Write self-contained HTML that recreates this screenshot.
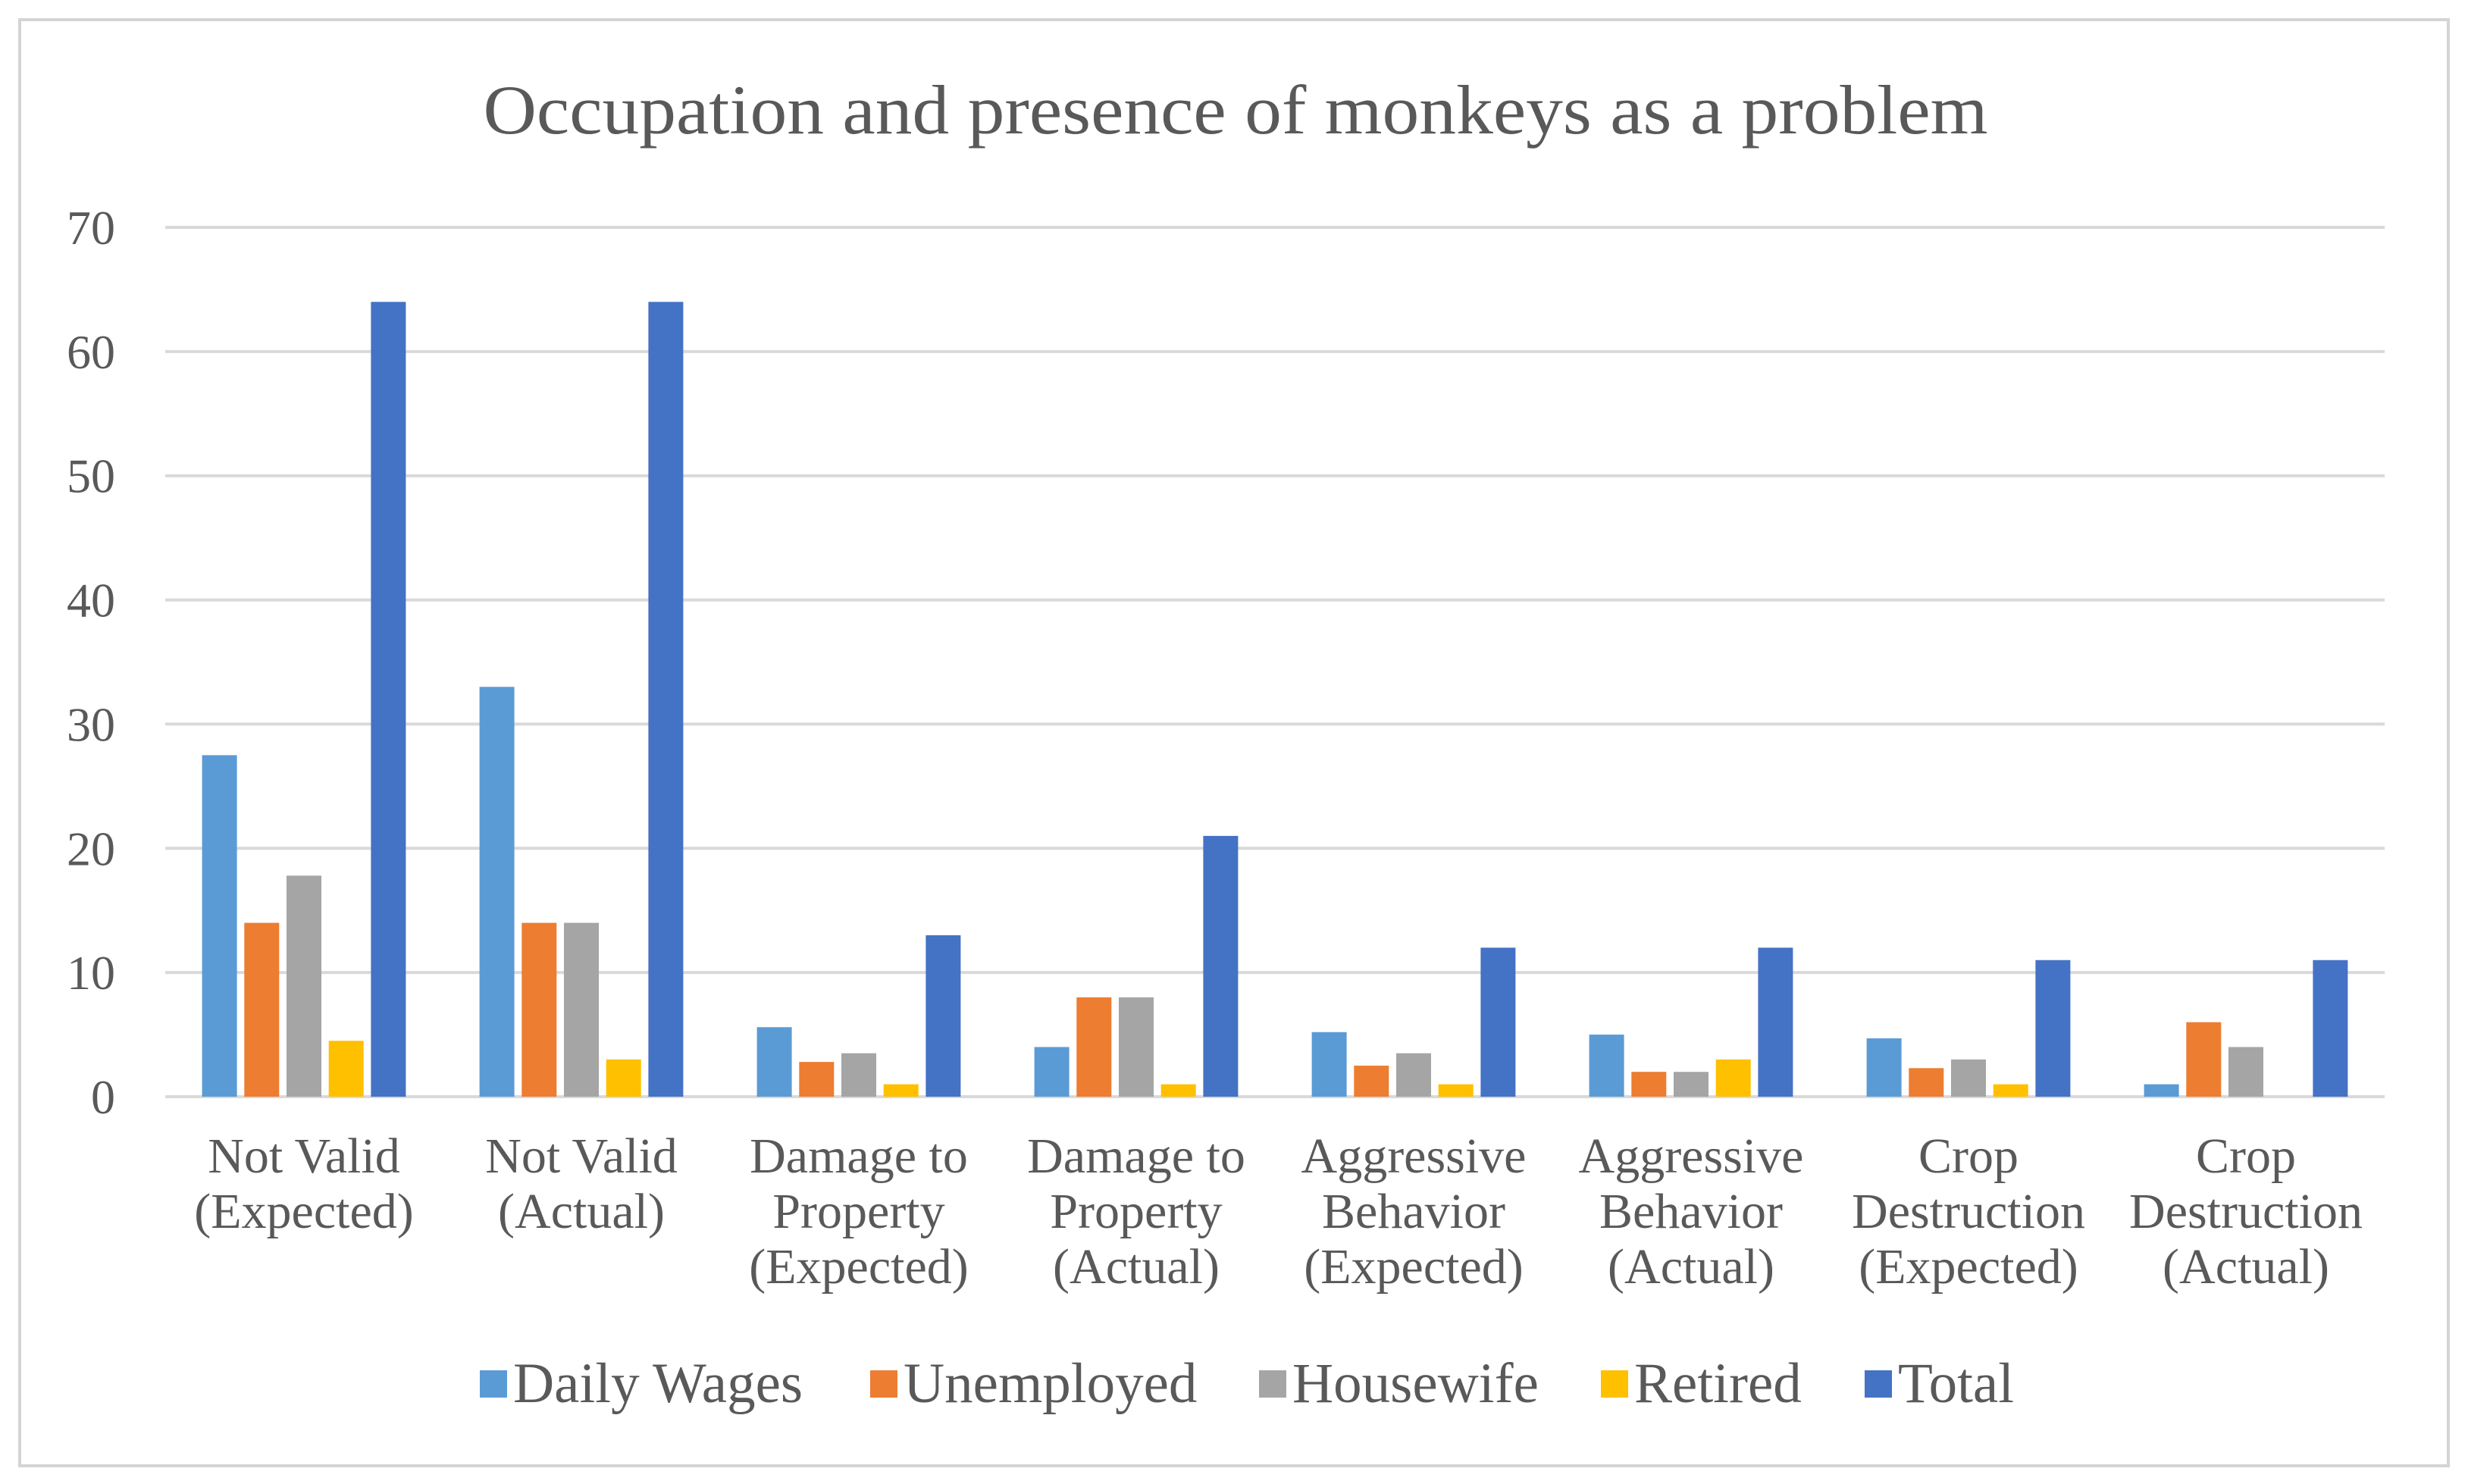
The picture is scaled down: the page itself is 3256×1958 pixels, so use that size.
<!DOCTYPE html>
<html><head><meta charset="utf-8"><style>
html,body{margin:0;padding:0;background:#fff}
svg{display:block}
text{font-family:"Liberation Serif",serif;fill:#595959}
</style></head><body>
<svg id="chart" width="3256" height="1958" viewBox="0 0 3256 1958" xmlns="http://www.w3.org/2000/svg">
<rect x="0" y="0" width="3256" height="1958" fill="#fff"/>
<rect x="26" y="26" width="3204" height="1908" fill="none" stroke="#d4d4d4" stroke-width="4"/>
<text x="1630" y="176" text-anchor="middle" font-size="92" textLength="1985" lengthAdjust="spacingAndGlyphs">Occupation and presence of monkeys as a problem</text>
<g id="grid"></g><g id="bars"></g><g id="xlabels"></g><g id="legend"></g>
</svg>
<script>
const categories=[["Not Valid","(Expected)"],["Not Valid","(Actual)"],["Damage to","Property","(Expected)"],["Damage to","Property","(Actual)"],["Aggressive","Behavior","(Expected)"],["Aggressive","Behavior","(Actual)"],["Crop","Destruction","(Expected)"],["Crop","Destruction","(Actual)"]];
const seriesNames=["Daily Wages","Unemployed","Housewife","Retired","Total"];
const dailyWages=[27.5,33,5.6,4,5.2,5,4.7,1];
const unemployed=[14,14,2.8,8,2.5,2,2.3,6];
const housewife=[17.8,14,3.5,8,3.5,2,3,4];
const retired=[4.5,3,1,1,1,3,1,0];
const total=[64,64,13,21,12,12,11,11];
const yTicks=[0,10,20,30,40,50,60,70];
const colors=["#5B9BD5","#ED7D31","#A5A5A5","#FFC000","#4472C4"];
const series=[dailyWages,unemployed,housewife,retired,total];
const NS="http://www.w3.org/2000/svg";
const L=218,R=3146,T=300,B=1447,yMax=70;
const y=v=>B-(v/yMax)*(B-T);
const catW=(R-L)/categories.length;
const pitch=55.7,bw=46;
const xBar=(c,s)=>L+c*catW+(catW-5*pitch)/2+s*pitch+(pitch-bw)/2;
function mk(tag,attrs,parent){const e=document.createElementNS(NS,tag);for(const k in attrs)e.setAttribute(k,attrs[k]);parent.appendChild(e);return e;}
const grid=document.getElementById('grid');
yTicks.forEach(t=>{
  const ln=mk('line',{x1:L,x2:R,y1:y(t),y2:y(t),stroke:'#d9d9d9','stroke-width':4},grid);
  
  
  const tx=mk('text',{x:152,y:y(t)+22,'text-anchor':'end','font-size':64},grid);
  tx.textContent=t;
  
  
});
const bars=document.getElementById('bars');
series.forEach((arr,s)=>{arr.forEach((v,c)=>{
  if(v<=0)return;
  const r=mk('rect',{x:xBar(c,s),y:y(v),width:bw,height:B-y(v),fill:colors[s]},bars);
  
  
});});
const xl=document.getElementById('xlabels');
categories.forEach((lines,c)=>{
  const cx=L+c*catW+catW/2;
  lines.forEach((t,i)=>{
    const tx=mk('text',{x:cx,y:1547+i*73,'text-anchor':'middle','font-size':66},xl);
    tx.textContent=t;
    
    
  });
});
const lg=document.getElementById('legend');
const legX=[633,1148,1661,2112,2460];
seriesNames.forEach((n,i)=>{
  const sq=mk('rect',{x:legX[i],y:1808,width:36,height:36,fill:colors[i]},lg);
  
  
  const tx=mk('text',{x:legX[i]+44,y:1850,'font-size':75},lg);
  tx.textContent=n;
  
  
});
</script>
</body></html>
